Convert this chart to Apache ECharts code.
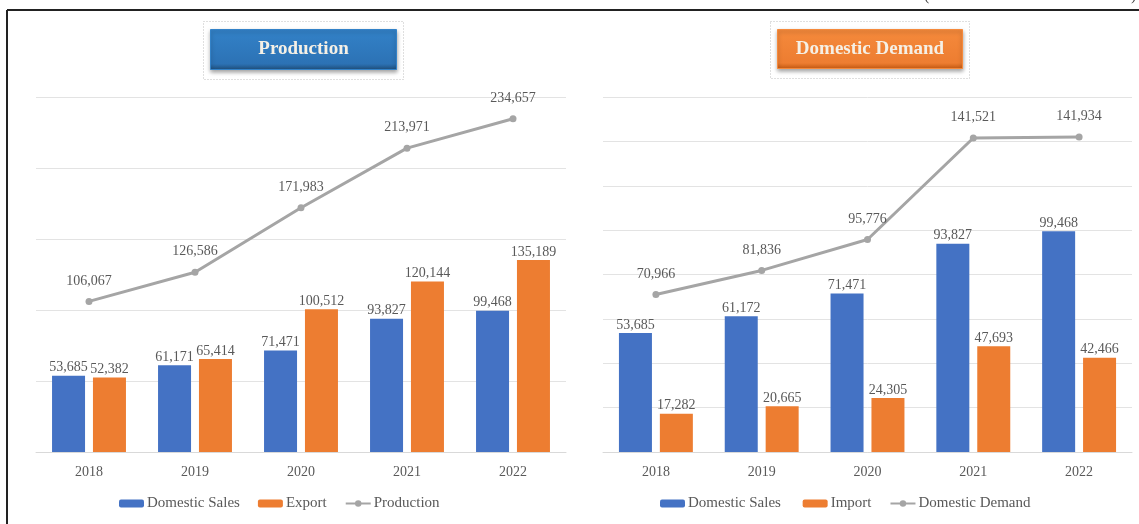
<!DOCTYPE html>
<html lang="en" style="height: 100%">
<head>
  <meta charset="utf-8">
</head>
<body style="height: 100%; margin: 0; background: #fff">
  <div id="container" style="width: 1139px; height: 524px"></div>
  <script type="text/javascript" src="https://cdn.jsdelivr.net/npm/echarts@6/dist/echarts.min.js"></script>
  <script type="text/javascript">
    // chart data
    var years = ['2018', '2019', '2020', '2021', '2022'];
    var prodDomesticSales = [53685, 61171, 71471, 93827, 99468];
    var exportValues = [52382, 65414, 100512, 120144, 135189];
    var productionValues = [106067, 126586, 171983, 213971, 234657];
    var demandDomesticSales = [53685, 61172, 71471, 93827, 99468];
    var importValues = [17282, 20665, 24305, 47693, 42466];
    var demandValues = [70966, 81836, 95776, 141521, 141934];

    var FONT = 'Liberation Serif';
    var BLUE = '#4472C4', ORANGE = '#ED7D31', GRAY = '#A5A5A5';

    var myChart = echarts.init(document.getElementById('container'), null, { renderer: 'canvas' });

    function fmt(p) { return Number(p.value).toLocaleString('en-US'); }

    function barSeries(name, data, color, idx) {
      return {
        name: name, type: 'bar', data: data,
        xAxisIndex: idx, yAxisIndex: idx,
        barWidth: 33, barGap: '24%',
        itemStyle: { color: color },
        label: {
          show: true, position: 'top', distance: 1, formatter: fmt,
          fontFamily: FONT, fontSize: 14, color: '#595959'
        }
      };
    }

    function lineSeries(name, data, idx) {
      return {
        name: name, type: 'line', data: data,
        xAxisIndex: idx, yAxisIndex: idx, z: 5,
        symbol: 'circle', symbolSize: 7,
        itemStyle: { color: GRAY },
        lineStyle: { color: GRAY, width: 3 },
        label: {
          show: true, position: 'top', distance: 10, formatter: fmt,
          fontFamily: FONT, fontSize: 14, color: '#595959'
        }
      };
    }

    function xAx(idx) {
      return {
        type: 'category', data: years, gridIndex: idx,
        axisLine: { lineStyle: { color: '#D9D9D9' } },
        axisTick: { show: false },
        axisLabel: { fontFamily: FONT, fontSize: 14, color: '#595959', margin: 13 }
      };
    }

    function yAx(idx, max, interval) {
      return {
        type: 'value', gridIndex: idx, min: 0, max: max, interval: interval,
        axisLabel: { show: false },
        axisLine: { show: false }, axisTick: { show: false },
        splitLine: { lineStyle: { color: '#E3E3E3' } }
      };
    }

    function legendAt(left, names) {
      return {
        left: left, top: 491, itemWidth: 25, itemHeight: 8, itemGap: 18,
        data: names, selectedMode: false,
        textStyle: { fontFamily: FONT, fontSize: 15, color: '#595959', padding: [0, 0, 0, -2] }
      };
    }

    function titleBox(x, y, w, h, text, c1, c2, c3) {
      return {
        type: 'group', left: x - 7, top: y - 8,
        children: [
          {
            type: 'rect', shape: { x: 0, y: 0, width: w + 14, height: h + 18 },
            style: { fill: 'none', stroke: '#BFBFBF', lineWidth: 1, lineDash: [1, 2] }
          },
          {
            type: 'rect', shape: { x: 7, y: 8, width: w, height: h },
            style: {
              fill: new echarts.graphic.LinearGradient(0, 0, 0, 1, [
                { offset: 0, color: c1 }, { offset: 0.85, color: c2 }, { offset: 1, color: c3 }
              ]),
              stroke: c1, lineWidth: 1,
              shadowBlur: 4, shadowOffsetY: 2, shadowColor: 'rgba(0,0,0,0.35)'
            }
          },
          {
            type: 'text', x: 7 + w / 2, y: 8 + h / 2,
            style: {
              text: text, fill: '#F5F0E6', font: 'bold 19px "' + FONT + '"',
              align: 'center', verticalAlign: 'middle'
            }
          }
        ]
      };
    }

    var option = {
      animation: false,
      grid: [
        { left: 36, top: 97, width: 530, height: 355 },
        { left: 603, top: 97, width: 529, height: 355 }
      ],
      xAxis: [xAx(0), xAx(1)],
      yAxis: [yAx(0, 250000, 50000), yAx(1, 160000, 20000)],
      legend: [
        legendAt(114, ['Domestic Sales', 'Export', 'Production']),
        legendAt(655, ['Domestic Sales ', 'Import', 'Domestic Demand'])
      ],
      graphic: [
        { type: 'line', shape: { x1: 7, y1: 10, x2: 1139, y2: 10 }, style: { stroke: '#222', lineWidth: 2 } },
        { type: 'line', shape: { x1: 7, y1: 10, x2: 7, y2: 524 }, style: { stroke: '#222', lineWidth: 2 } },
        { type: 'text', left: 924, top: -12, style: { text: '(', font: '16px "' + FONT + '"', fill: '#444' } },
        { type: 'text', left: 1131, top: -12, style: { text: ')', font: '16px "' + FONT + '"', fill: '#444' } },
        titleBox(208, 27, 186, 40, 'Production', '#3382C8', '#2C72B5', '#1F4E79'),
        titleBox(775, 27, 185, 39, 'Domestic Demand', '#F58A3C', '#ED7D31', '#C55A11')
      ],
      series: [
        barSeries('Domestic Sales', prodDomesticSales, BLUE, 0),
        barSeries('Export', exportValues, ORANGE, 0),
        lineSeries('Production', productionValues, 0),
        barSeries('Domestic Sales ', demandDomesticSales, BLUE, 1),
        barSeries('Import', importValues, ORANGE, 1),
        lineSeries('Domestic Demand', demandValues, 1)
      ]
    };

    myChart.setOption(option);
    window.addEventListener('resize', myChart.resize);
  </script>
</body>
</html>
